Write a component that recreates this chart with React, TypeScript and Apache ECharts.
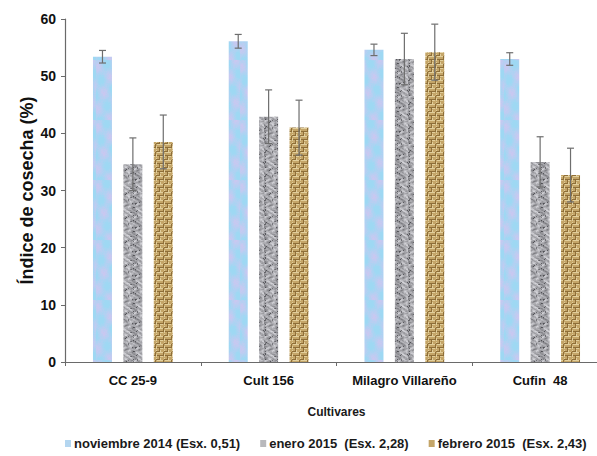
import React, { useEffect, useRef } from "react";
import * as echarts from "echarts";

const categories = ["CC 25-9", "Cult 156", "Milagro Villareño", "Cufin  48"];
const seriesNames = [
  "noviembre 2014 (Esx. 0,51)",
  "enero 2015  (Esx. 2,28)",
  "febrero 2015  (Esx. 2,43)",
];
const nov2014 = [53.4, 56.1, 54.6, 53.0];
const ene2015 = [34.6, 42.9, 53.0, 35.0];
const feb2015 = [38.5, 41.0, 54.2, 32.7];
const nov2014Err = [1.1, 1.2, 1.0, 1.1];
const ene2015Err = [4.6, 4.7, 4.5, 4.4];
const feb2015Err = [4.7, 4.8, 4.9, 4.7];
const yTicks = [0, 10, 20, 30, 40, 50, 60];

function hash(x: number, y: number, s: number) {
  const v = Math.sin(x * 12.9898 + y * 78.233 + s * 37.719) * 43758.5453;
  return v - Math.floor(v);
}

function makeBlue() {
  const c = document.createElement("canvas");
  c.width = 24; c.height = 60;
  const g = c.getContext("2d")!;
  for (let y = 0; y < 60; y++) {
    for (let x = 0; x < 24; x++) {
      const t = Math.sin(x * 0.4 + y * 0.15) * 0.5 + Math.sin(y * 0.3 - x * 0.25) * 0.5;
      const n = hash(x, y, 1) * 0.2;
      const k = Math.max(0, Math.min(1, t * 0.5 + 0.35 + n - 0.1));
      const r = Math.round(158 + 48 * k);
      const gg = Math.round(216 - 18 * k);
      const b = Math.round(243 - 3 * k);
      g.fillStyle = `rgb(${r},${gg},${b})`;
      g.fillRect(x, y, 1, 1);
    }
  }
  return c;
}

function makeGray() {
  const c = document.createElement("canvas");
  c.width = 24; c.height = 24;
  const g = c.getContext("2d")!;
  for (let y = 0; y < 24; y++) {
    for (let x = 0; x < 24; x++) {
      const t = Math.sin(x * 0.7 + Math.sin(y * 0.5) * 2.5) * Math.cos(y * 0.6 - x * 0.25);
      const n = hash(x, y, 2);
      let v = 180 + 35 * t - 25 * n;
      if (n > 0.93) v -= 55;
      v = Math.max(80, Math.min(230, Math.round(v)));
      g.fillStyle = `rgb(${v},${v},${v + 5})`;
      g.fillRect(x, y, 1, 1);
    }
  }
  return c;
}

function makeGold() {
  const c = document.createElement("canvas");
  c.width = 8; c.height = 8;
  const g = c.getContext("2d")!;
  g.fillStyle = "#c4a568";
  g.fillRect(0, 0, 8, 8);
  g.fillStyle = "#e2cf9c";
  g.fillRect(0, 0, 3, 1); g.fillRect(4, 2, 1, 3); g.fillRect(0, 4, 3, 1); g.fillRect(4, 6, 1, 2);
  g.fillRect(5, 0, 3, 1); g.fillRect(0, 6, 1, 2);
  g.fillStyle = "#8e6e38";
  g.fillRect(3, 0, 1, 4); g.fillRect(0, 3, 3, 1); g.fillRect(7, 4, 1, 4); g.fillRect(4, 7, 3, 1);
  g.fillRect(5, 3, 3, 1);
  return c;
}

export default function App() {
  const ref = useRef<HTMLDivElement>(null);
  useEffect(() => {
    if (!ref.current) return;
    const chart = echarts.init(ref.current, undefined, { renderer: "svg" });
    const patterns = [
      { image: makeBlue(), repeat: "repeat" },
      { image: makeGray(), repeat: "repeat" },
      { image: makeGold(), repeat: "repeat" },
    ];
    const iconColors = ["#b4d6f0", "#b8b8bc", "#c4a568"];
    const vals = [nov2014, ene2015, feb2015];
    const errs = [nov2014Err, ene2015Err, feb2015Err];
    const barWidth = 19;
    const spacing = 30.4;

    const bars = vals.map((v, i) => ({
      type: "bar",
      name: seriesNames[i],
      data: v,
      barWidth,
      barGap: "60%",
      itemStyle: { color: patterns[i] as any },
      z: 2,
    }));
    const errSeries = vals.map((v, i) => ({
      type: "custom",
      data: v.map((val, j) => [j, val - errs[i][j], val + errs[i][j]]),
      z: 5,
      silent: true,
      renderItem: (params: any, api: any) => {
        const lo = api.coord([api.value(0), api.value(1)]);
        const hi = api.coord([api.value(0), api.value(2)]);
        const x = lo[0] + (i - 1) * spacing;
        const cap = 3.5;
        const style = { stroke: "#6e6e6e", lineWidth: 1.2 };
        return {
          type: "group",
          children: [
            { type: "line", shape: { x1: x, y1: lo[1], x2: x, y2: hi[1] }, style },
            { type: "line", shape: { x1: x - cap, y1: hi[1], x2: x + cap, y2: hi[1] }, style },
            { type: "line", shape: { x1: x - cap, y1: lo[1], x2: x + cap, y2: lo[1] }, style },
          ],
        };
      },
    }));

    chart.setOption({
      animation: false,
      backgroundColor: "#ffffff",
      textStyle: { fontFamily: "'Liberation Sans', Arial, sans-serif" },
      grid: { left: 65, top: 19, bottom: 94, right: 0 },
      legend: {
        bottom: 1,
        left: 60,
        data: seriesNames.map((n, i) => ({ name: n, itemStyle: { color: iconColors[i] } })),
        icon: "rect",
        itemWidth: 6,
        itemHeight: 7,
        itemGap: 20,
        textStyle: { fontSize: 13, fontWeight: "bold", color: "#1a1a1a", padding: [0, 0, 0, -2] },
      },
      xAxis: {
        type: "category",
        data: categories,
        name: "Cultivares",
        nameLocation: "middle",
        nameGap: 44,
        nameTextStyle: { fontSize: 12, fontWeight: "bold", color: "#1a1a1a" },
        axisLine: { lineStyle: { color: "#6a6a6a", width: 1.2 } },
        axisTick: { show: true, length: 4, lineStyle: { color: "#6a6a6a" } },
        axisLabel: { fontSize: 13, fontWeight: "bold", color: "#111", margin: 12, interval: 0 },
      },
      yAxis: {
        type: "value",
        min: yTicks[0],
        max: yTicks[yTicks.length - 1],
        interval: 10,
        name: "Índice de cosecha (%)",
        nameLocation: "middle",
        nameGap: 29,
        nameMoveOverlap: false,
        nameTextStyle: { fontSize: 18, fontWeight: "bold", color: "#111" },
        axisLine: { show: true, lineStyle: { color: "#6a6a6a", width: 1.2 } },
        axisTick: { show: true, length: 4, lineStyle: { color: "#6a6a6a" } },
        splitLine: { show: false },
        axisLabel: { fontSize: 14, fontWeight: "bold", color: "#111", margin: 9 },
      },
      series: [...bars, ...errSeries],
    } as any);
    return () => chart.dispose();
  }, []);
  return (
    <div style={{ width: 597, height: 456, position: "absolute", left: 0, top: 0, overflow: "hidden" }}>
      <div ref={ref} style={{ width: 608, height: 456 }} />
    </div>
  );
}
